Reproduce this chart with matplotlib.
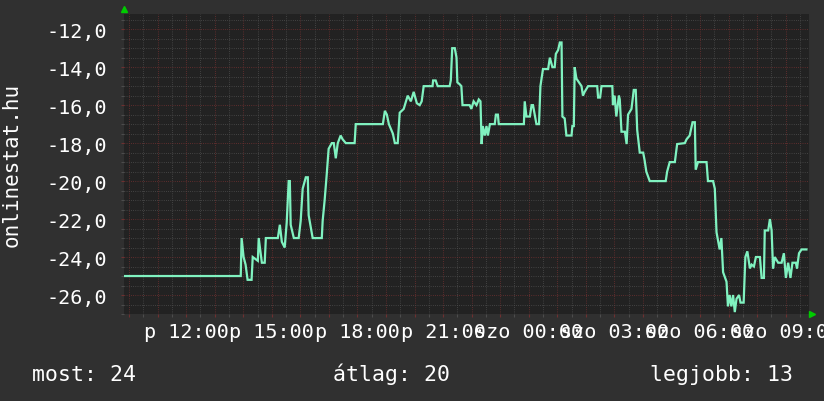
'''onlinestat.hu rank graph, rrdtool look'''

import numpy as np
import matplotlib
matplotlib.use('Agg')
import matplotlib.pyplot as plt
from matplotlib.ticker import MultipleLocator, FuncFormatter

# hours since Friday 00:00 (24 = Saturday 00:00)
hours = [9.82, 13.91, 13.94, 14.01, 14.08, 14.15, 14.29, 14.33, 14.51, 14.54,
         14.65, 14.75, 14.79, 15.21, 15.28, 15.35, 15.45, 15.52, 15.59, 15.63,
         15.66, 15.77, 15.94, 16.01, 16.08, 16.19, 16.26, 16.29, 16.43, 16.75,
         16.78, 16.85, 16.92, 16.99, 17.10, 17.17, 17.24, 17.31, 17.41, 17.48,
         17.59, 17.90, 17.94, 18.89, 18.96, 19.03, 19.10, 19.24, 19.31, 19.41,
         19.48, 19.62, 19.76, 19.87, 19.97, 20.08, 20.18, 20.25, 20.32, 20.63,
         20.65, 20.74, 20.81, 21.23, 21.27, 21.32, 21.41, 21.47, 21.50, 21.58,
         21.64, 21.68, 21.93, 21.99, 22.07, 22.17, 22.25, 22.31, 22.35, 22.39,
         22.46, 22.52, 22.57, 22.64, 22.81, 22.85, 22.92, 22.95, 23.83, 23.86,
         23.92, 24.04, 24.10, 24.15, 24.21, 24.27, 24.36, 24.41, 24.50, 24.68,
         24.74, 24.83, 24.91, 24.95, 25.03, 25.09, 25.15, 25.18, 25.26, 25.32,
         25.50, 25.53, 25.58, 25.61, 25.67, 25.76, 25.85, 25.90, 25.96, 26.08,
         26.40, 26.43, 26.50, 26.55, 26.93, 26.95, 27.01, 27.07, 27.16, 27.19,
         27.25, 27.37, 27.43, 27.48, 27.60, 27.68, 27.75, 27.80, 27.89, 28.01,
         28.06, 28.12, 28.24, 28.80, 28.85, 28.94, 29.12, 29.20, 29.47, 29.53,
         29.64, 29.74, 29.82, 29.85, 29.93, 30.23, 30.28, 30.46, 30.52, 30.58,
         30.69, 30.75, 30.81, 30.93, 30.98, 31.04, 31.10, 31.16, 31.22, 31.28,
         31.37, 31.42, 31.53, 31.59, 31.66, 31.75, 31.81, 31.89, 31.96, 32.10,
         32.16, 32.24, 32.27, 32.39, 32.45, 32.51, 32.56, 32.62, 32.74, 32.86,
         32.94, 33.01, 33.09, 33.17, 33.24, 33.36, 33.40, 33.47, 33.56, 33.73]

rank = [-25.0, -25.0, -23.0, -24.0, -24.4, -25.2, -25.2, -24.0, -24.2, -23.0,
        -24.3, -24.3, -23.0, -23.0, -22.3, -23.2, -23.5, -22.2, -20.0, -20.0,
        -22.3, -23.0, -23.0, -22.1, -20.4, -19.8, -19.8, -21.8, -23.0, -23.0,
        -22.1, -21.0, -19.7, -18.3, -18.0, -18.0, -18.8, -18.0, -17.6, -17.8,
        -18.0, -18.0, -17.0, -17.0, -16.3, -16.5, -17.0, -17.5, -18.0, -18.0,
        -16.4, -16.2, -15.5, -15.8, -15.3, -15.9, -16.0, -15.8, -15.0, -15.0,
        -14.7, -14.7, -15.0, -15.0, -14.7, -13.0, -13.0, -13.5, -14.8, -14.9,
        -15.0, -16.0, -16.0, -16.2, -15.8, -16.0, -15.7, -15.8, -18.05, -17.1,
        -17.6, -17.1, -17.6, -17.0, -17.0, -16.5, -16.5, -17.0, -17.0, -15.8,
        -16.6, -16.6, -16.0, -16.0, -16.5, -17.0, -17.0, -15.0, -14.1, -14.1,
        -13.5, -14.0, -14.0, -13.3, -13.1, -12.7, -12.7, -16.6, -16.7, -17.6,
        -17.6, -17.1, -17.1, -14.0, -14.6, -14.8, -15.0, -15.5, -15.3, -15.0,
        -15.0, -15.6, -15.6, -15.0, -15.0, -16.0, -15.5, -16.6, -15.5, -15.7,
        -17.4, -17.4, -18.05, -16.5, -16.2, -15.2, -15.2, -17.3, -18.5, -18.5,
        -18.9, -19.5, -20.0, -20.0, -19.5, -19.0, -19.0, -18.05, -18.0, -17.8,
        -17.6, -16.9, -16.9, -19.4, -19.0, -19.0, -20.0, -20.0, -20.4, -22.7,
        -23.6, -23.0, -24.8, -25.3, -26.6, -26.0, -26.6, -26.0, -26.9, -26.2,
        -26.0, -26.4, -26.4, -24.0, -23.7, -24.6, -24.4, -24.5, -24.0, -24.0,
        -25.1, -25.1, -22.6, -22.6, -22.0, -22.6, -24.6, -24.0, -24.3, -24.3,
        -23.8, -25.1, -24.3, -25.1, -24.3, -24.3, -24.6, -23.8, -23.6, -23.6]

day_names = {0: 'p', 1: 'szo'}
summary = ['most: 24', 'átlag: 20', 'legjobb: 13']

x_range = (9.82, 33.82)
y_range = (-27.0, -11.2)

bg = '#303030'
canvas = '#222222'
line_color = '#80f2c0'
mgrid = '#6e3030'
grid = '#4c4c4c'
font = 'DejaVu Sans Mono'


def time_label(h, pos):
    h = int(round(h))
    if h % 3:
        return ''
    return '%s %02d:00' % (day_names[h // 24], h % 24)


fig = plt.figure(figsize=(8.24, 4.02), dpi=100, facecolor=bg)
ax = fig.add_axes([124/824, 87/402, 685/824, 300/402], facecolor=canvas)

ax.plot(hours, rank, color=line_color, linewidth=1.6, solid_joinstyle='miter')

ax.set_xlim(*x_range)
ax.set_ylim(*y_range)

ax.xaxis.set_major_locator(MultipleLocator(1))
ax.xaxis.set_minor_locator(MultipleLocator(0.5))
ax.yaxis.set_major_locator(MultipleLocator(2))
ax.yaxis.set_minor_locator(MultipleLocator(0.5))
ax.xaxis.set_major_formatter(FuncFormatter(time_label))
ax.yaxis.set_major_formatter(FuncFormatter(lambda v, p: ('%.1f' % v).replace('.', ',')))

dots = (0, (0.7, 1.4))
ax.grid(True, which='minor', color=grid, linestyle=dots, linewidth=0.75)
ax.grid(True, which='major', color=mgrid, linestyle=dots, linewidth=0.75)
ax.set_axisbelow(True)

for s in ax.spines.values():
    s.set_visible(False)

ax.tick_params(which='major', color=mgrid, length=2, width=0.8,
               labelcolor='white', labelsize=14.5, pad=10)
ax.tick_params(which='minor', color=grid, length=2, width=0.8)
ax.tick_params(axis='x', which='major', pad=4)
for lab in ax.get_xticklabels() + ax.get_yticklabels():
    lab.set_fontfamily(font)

# rrdtool axis arrows
ax.plot([0], [1.017], marker='^', color='#00cc00', markersize=5,
        transform=ax.transAxes, clip_on=False)
ax.plot([1.005], [0], marker='>', color='#00cc00', markersize=5,
        transform=ax.transAxes, clip_on=False)

fig.text(12/824, (402-165)/402, 'onlinestat.hu', rotation=90,
         color='white', fontsize=15, family=font, ha='center', va='center')

for txt, xpos in zip(summary, [32, 333, 650]):
    fig.text(xpos/824, 21/402, txt, color='white', fontsize=15.5,
             family=font, ha='left', va='baseline')

fig.savefig('out.png', dpi=100, facecolor=bg)
